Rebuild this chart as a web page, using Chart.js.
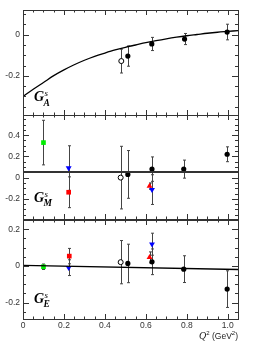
<!DOCTYPE html>
<html>
<head>
<meta charset="utf-8">
<script src="https://cdn.jsdelivr.net/npm/chart.js@4.4.1/dist/chart.umd.min.js"></script>
<style>
  body { margin: 0; background: #fff; }
  #wrap { position: relative; width: 265px; height: 355px; }
  canvas { position: absolute; left: 0; }
</style>
</head>
<body>
<div id="wrap">
  <canvas id="cA" width="265" height="120" style="top:0px;width:265px;height:120px"></canvas>
  <canvas id="cM" width="265" height="115" style="top:110px;width:265px;height:115px"></canvas>
  <canvas id="cE" width="265" height="140" style="top:215px;width:265px;height:140px"></canvas>
</div>
<script>
// ===== DADOS =====
const qTicks = [0, 0.2, 0.4, 0.6, 0.8, 1];
const qMinor = [0.05, 0.1, 0.15, 0.25, 0.3, 0.35, 0.45, 0.5, 0.55, 0.65, 0.7, 0.75, 0.85, 0.9, 0.95];

// G_A^s
const gaTicks = [-0.2, 0];
const gaMinor = [-0.35, -0.3, -0.25, -0.15, -0.1, -0.05, 0.05, 0.1];
const gaCurveQ = [0, 0.05, 0.1, 0.15, 0.2, 0.25, 0.3, 0.35, 0.4, 0.45, 0.5, 0.55, 0.6, 0.65, 0.7, 0.75, 0.8, 0.85, 0.9, 0.95, 1.0, 1.05];
const gaCurveV = [-0.30, -0.265, -0.232, -0.199, -0.171, -0.146, -0.124, -0.105, -0.089, -0.074, -0.061, -0.05, -0.039, -0.029, -0.02, -0.012, -0.005, 0.001, 0.007, 0.012, 0.016, 0.02];
const gaQ = [0.512, 0.629, 0.789, 0.997];
const gaVal = [-0.104, -0.045, -0.021, 0.013];
const gaErr = [0.049, 0.032, 0.027, 0.038];
const gaOpenQ = [0.48];
const gaOpenVal = [-0.128];
const gaOpenErr = [0.058];

// G_M^s
const gmTicks = [-0.2, 0, 0.2, 0.4];
const gmMinor = [-0.35, -0.3, -0.25, -0.15, -0.1, -0.05, 0.05, 0.1, 0.15, 0.25, 0.3, 0.35, 0.45, 0.5, 0.55];
const gmFitQ = [0, 1.05];
const gmFitV = [0.053, 0.053];
const gmQ = [0.512, 0.63, 0.785, 0.997];
const gmVal = [0.03, 0.08, 0.08, 0.22];
const gmErr = [0.225, 0.115, 0.085, 0.07];
const gmOpenQ = [0.477];
const gmOpenVal = [0.0];
const gmOpenErr = [0.295];
const gmGreenQ = [0.1];
const gmGreenVal = [0.33];
const gmGreenErr = [0.21];
const gmBlueQ = [0.223, 0.63];
const gmBlueVal = [0.09, -0.113];
const gmBlueErr = [0.21, 0.14];
const gmRedSqQ = [0.223];
const gmRedSqVal = [-0.138];
const gmRedSqErr = [0.145];
const gmRedTriQ = [0.618];
const gmRedTriVal = [-0.08];
const gmRedTriErr = [0.03];

// G_E^s
const geTicks = [-0.2, 0, 0.2];
const geMinor = [-0.25, -0.15, -0.1, -0.05, 0.05, 0.1, 0.15, 0.25];
const geFitQ = [0, 1.05];
const geFitV = [0.003, -0.02];
const geQ = [0.512, 0.63, 0.785, 0.997];
const geVal = [0.013, 0.022, -0.018, -0.127];
const geErr = [0.105, 0.07, 0.073, 0.1];
const geOpenQ = [0.477];
const geOpenVal = [0.02];
const geOpenErr = [0.118];
const geGreenQ = [0.1];
const geGreenVal = [-0.005];
const geGreenErr = [0.015];
const geBlueQ = [0.223, 0.63];
const geBlueVal = [-0.01, 0.118];
const geBlueErr = [0.043, 0.06];
const geRedSqQ = [0.226];
const geRedSqVal = [0.053];
const geRedSqErr = [0.042];
const geRedTriQ = [0.618];
const geRedTriVal = [0.046];
const geRedTriErr = [0.03];

// ===== HELPERS =====
const FONT = '"Liberation Sans", Arial, sans-serif';
const SERIF = '"Liberation Serif", "Times New Roman", serif';

function pts(q, v, e) {
  return q.map((x, i) => ({ x: x, y: v[i], err: e ? e[i] : 0 }));
}

function marcador(q, v, e, style, cor, extra) {
  return Object.assign({
    data: pts(q, v, e),
    pointStyle: style,
    pointRadius: 2.6,
    backgroundColor: cor,
    borderColor: cor,
    pointBorderWidth: 0,
    showLine: false
  }, extra || {});
}

function linha(q, v, cor, w) {
  return {
    data: pts(q, v),
    showLine: true,
    borderColor: cor,
    borderWidth: w,
    pointRadius: 0,
    cubicInterpolationMode: 'monotone',
    noErr: true
  };
}

// ===== PLUGIN (moldura estilo ROOT, barras de erro, rótulo) =====
const rootFrame = {
  id: 'rootFrame',
  beforeDatasetsDraw(chart) {
    const ctx = chart.ctx, ys = chart.scales.y;
    ctx.save();
    ctx.strokeStyle = '#444';
    ctx.lineWidth = 1;
    chart.data.datasets.forEach((ds, i) => {
      if (ds.noErr) return;
      const meta = chart.getDatasetMeta(i);
      ds.data.forEach((p, j) => {
        if (!p.err) return;
        const x = Math.round(meta.data[j].x) + 0.5;
        const y1 = ys.getPixelForValue(p.y + p.err);
        const y2 = ys.getPixelForValue(p.y - p.err);
        ctx.beginPath();
        ctx.moveTo(x, y1); ctx.lineTo(x, y2);
        ctx.moveTo(x - 1.5, y1); ctx.lineTo(x + 1.5, y1);
        ctx.moveTo(x - 1.5, y2); ctx.lineTo(x + 1.5, y2);
        ctx.stroke();
      });
    });
    ctx.restore();
  },
  afterDraw(chart, args, opts) {
    const ctx = chart.ctx, a = chart.chartArea;
    const xs = chart.scales.x, ys = chart.scales.y;
    ctx.save();
    ctx.strokeStyle = '#333';
    ctx.lineWidth = 1;
    ctx.strokeRect(Math.round(a.left) + 0.5, Math.round(a.top) + 0.5,
      Math.round(a.right - a.left), Math.round(a.bottom - a.top));
    ctx.beginPath();
    // ticks x (cima e baixo)
    const tx = (v, len) => {
      const x = Math.round(xs.getPixelForValue(v)) + 0.5;
      ctx.moveTo(x, a.bottom); ctx.lineTo(x, a.bottom - len);
      ctx.moveTo(x, a.top); ctx.lineTo(x, a.top + len);
    };
    qTicks.forEach(v => tx(v, 5));
    qMinor.forEach(v => tx(v, 2.5));
    // ticks y (esquerda e direita)
    const ty = (v, len) => {
      const y = Math.round(ys.getPixelForValue(v)) + 0.5;
      ctx.moveTo(a.left, y); ctx.lineTo(a.left + len, y);
      ctx.moveTo(a.right, y); ctx.lineTo(a.right - len, y);
    };
    opts.major.forEach(v => ty(v, 6));
    opts.minor.forEach(v => ty(v, 3));
    ctx.stroke();

    // rótulo G
    const gx = a.left + 11, gy = a.bottom - opts.labelOff;
    ctx.fillStyle = '#000';
    ctx.textBaseline = 'alphabetic';
    ctx.textAlign = 'left';
    ctx.font = 'bold italic 14px ' + SERIF;
    ctx.fillText('G', gx, gy);
    const w = ctx.measureText('G').width;
    ctx.font = 'italic 9px ' + SERIF;
    ctx.fillText('s', gx + w + 0.5, gy - 5);
    ctx.font = 'bold italic 9.5px ' + SERIF;
    ctx.fillText(opts.sub, gx + w - 0.5, gy + 4.5);

    // título do eixo x
    if (opts.xTitle) {
      const partes = [
        { t: 'Q', f: 'italic 10px ' + SERIF, dy: 0 },
        { t: '2', f: '6px ' + FONT, dy: -4 },
        { t: ' (GeV', f: '8.5px ' + FONT, dy: 0 },
        { t: '2', f: '6px ' + FONT, dy: -4 },
        { t: ')', f: '8.5px ' + FONT, dy: 0 }
      ];
      let total = 0;
      partes.forEach(p => { ctx.font = p.f; p.w = ctx.measureText(p.t).width; total += p.w; });
      let x = a.right - total;
      const base = a.bottom + 20;
      ctx.fillStyle = '#222';
      partes.forEach(p => { ctx.font = p.f; ctx.fillText(p.t, x, base + p.dy); x += p.w; });
    }
    ctx.restore();
  }
};

function fmt(v) {
  return v === 0 ? '0' : v.toFixed(1);
}

function makePanel(id, datasets, yMin, yMax, major, minor, sub, pad, labelOff, showX) {
  const xScale = {
    type: 'linear', min: 0, max: 1.05,
    display: showX,
    grid: { display: false, drawTicks: false },
    border: { display: false },
    afterBuildTicks: s => { s.ticks = qTicks.map(v => ({ value: v })); },
    ticks: { padding: 2, color: '#333', font: { family: FONT, size: 8.5 }, callback: v => fmt(v), maxRotation: 0 }
  };
  if (showX) xScale.afterFit = s => { s.height = 20; s.paddingLeft = 0; s.paddingRight = 0; };
  return new Chart(document.getElementById(id), {
    type: 'scatter',
    data: { datasets: datasets },
    plugins: [rootFrame],
    options: {
      responsive: false,
      animation: false,
      events: [],
      layout: { padding: { top: pad[0], bottom: pad[1], left: 0, right: 27 } },
      plugins: {
        legend: { display: false },
        tooltip: { enabled: false },
        rootFrame: { major: major, minor: minor, sub: sub, labelOff: labelOff, xTitle: showX }
      },
      scales: {
        x: xScale,
        y: {
          type: 'linear', min: yMin, max: yMax,
          grid: { display: false, drawTicks: false },
          border: { display: false },
          afterBuildTicks: s => { s.ticks = major.map(v => ({ value: v })); },
          afterFit: s => { s.width = 23; s.paddingTop = 0; s.paddingBottom = 0; },
          ticks: { padding: 3, color: '#333', font: { family: FONT, size: 8.5 }, callback: v => fmt(v) }
        }
      }
    }
  });
}

// ===== PAINÉIS =====
makePanel('cA', [
  linha(gaCurveQ, gaCurveV, '#000', 1.3),
  marcador(gaOpenQ, gaOpenVal, gaOpenErr, 'circle', '#fff', { borderColor: '#000', pointBorderWidth: 1, pointRadius: 2.5 }),
  marcador(gaQ, gaVal, gaErr, 'circle', '#000')
], -0.39, 0.12, gaTicks, gaMinor, 'A', [10, 5], 14, false);

makePanel('cM', [
  linha(gmFitQ, gmFitV, '#333', 1.8),
  marcador(gmGreenQ, gmGreenVal, gmGreenErr, 'rect', '#00ee00', { pointRadius: 3.3 }),
  marcador(gmRedSqQ, gmRedSqVal, gmRedSqErr, 'rect', '#ff0000', { pointRadius: 3.3 }),
  marcador(gmOpenQ, gmOpenVal, gmOpenErr, 'circle', '#fff', { borderColor: '#000', pointBorderWidth: 1, pointRadius: 2.5 }),
  marcador(gmQ, gmVal, gmErr, 'circle', '#000'),
  marcador(gmRedTriQ, gmRedTriVal, gmRedTriErr, 'triangle', '#ff0000', { pointRadius: 3.4 }),
  marcador(gmBlueQ, gmBlueVal, gmBlueErr, 'triangle', '#0000ff', { pointRadius: 3.4, pointRotation: 180 })
], -0.39, 0.59, gmTicks, gmMinor, 'M', [4.5, 6], 17.5, false);

makePanel('cE', [
  linha(geFitQ, geFitV, '#000', 1.3),
  marcador(geGreenQ, geGreenVal, geGreenErr, 'rect', '#00ee00', { pointRadius: 3.3 }),
  marcador(geRedSqQ, geRedSqVal, geRedSqErr, 'rect', '#ff0000', { pointRadius: 3.3 }),
  marcador(geOpenQ, geOpenVal, geOpenErr, 'circle', '#fff', { borderColor: '#000', pointBorderWidth: 1, pointRadius: 2.5 }),
  marcador(geQ, geVal, geErr, 'circle', '#000'),
  marcador(geRedTriQ, geRedTriVal, geRedTriErr, 'triangle', '#ff0000', { pointRadius: 3.4 }),
  marcador(geBlueQ, geBlueVal, geBlueErr, 'triangle', '#0000ff', { pointRadius: 3.4, pointRotation: 180 })
], -0.29, 0.25, geTicks, geMinor, 'E', [4, 16], 16.5, true);
</script>
</body>
</html>
